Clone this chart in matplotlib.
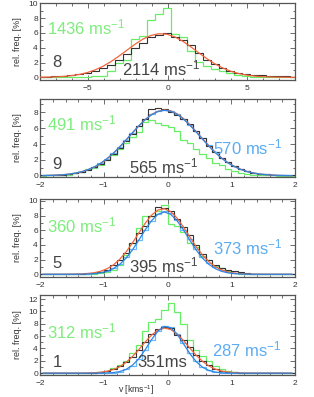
import matplotlib
matplotlib.use('Agg')
import matplotlib.pyplot as plt
import numpy as np
from matplotlib.ticker import MultipleLocator

plt.rcParams['font.family'] = ['Liberation Sans', 'DejaVu Sans']
plt.rcParams['mathtext.fontset'] = 'custom'
plt.rcParams['mathtext.rm'] = 'Liberation Sans'
plt.rcParams['mathtext.it'] = 'Liberation Sans'
plt.rcParams['mathtext.bf'] = 'Liberation Sans:bold'
plt.rcParams['mathtext.default'] = 'rm'

# ---------------- data ----------------
# Panel 1: bins of 0.5 km/s starting at -8.3
p1_green = [0.03, 0.03, 0.03, 0.03, 0.04, 0.05, 0.07, 0.15, 0.2, 0.8, 1.9, 2.3, 5.2, 5.6, 7.7, 8.5,
            9.4, 5.9, 5.5, 3.5, 2.1, 1.5, 1.1, 0.9, 0.6, 0.35, 0.15, 0.08, 0.05, 0.04, 0.03, 0.03, 0.03]
p1_black = [0.08, 0.10, 0.14, 0.2, 0.3, 0.42, 0.6, 0.85, 1.2, 1.7, 2.4, 3.1, 3.9, 4.6, 5.4, 5.7,
            6.0, 5.5, 5.1, 4.4, 3.3, 2.4, 1.75, 1.25, 0.85, 0.6, 0.45, 0.35, 0.28, 0.22, 0.18, 0.14, 0.1]
p1_redfit = [0.01, 0.03, 0.06, 0.12, 0.22, 0.38, 0.63, 1.0, 1.49, 2.12, 2.86, 3.66, 4.45, 5.15, 5.65, 5.89,
             5.83, 5.47, 4.89, 4.14, 3.33, 2.55, 1.85, 1.28, 0.84, 0.52, 0.31, 0.17, 0.09, 0.05, 0.02, 0.01, 0.0]

# Panels 2-4: bins of 0.1 km/s starting at -2.0
p2_green = [0.02, 0.03, 0.05, 0.08, 0.15, 0.3, 0.5, 0.8, 1.0, 1.4, 2.0, 2.6, 3.4, 4.1, 4.9, 5.5, 6.8, 7.0, 6.6, 6.4,
            6.1, 5.7, 4.5, 4.1, 3.4, 2.8, 2.2, 1.6, 1.3, 0.9, 0.6, 0.4, 0.2, 0.12, 0.08, 0.05, 0.03, 0.02, 0.02, 0.01]
p2_black = [0.05, 0.07, 0.1, 0.15, 0.22, 0.35, 0.5, 0.75, 1.05, 1.5, 2.0, 2.8, 3.5, 4.4, 5.3, 6.3, 7.2, 8.4, 8.5, 8.4,
            8.1, 7.7, 7.2, 6.5, 5.6, 4.7, 3.8, 3.0, 2.3, 1.7, 1.2, 0.85, 0.6, 0.4, 0.28, 0.18, 0.12, 0.08, 0.05, 0.04]
p2_blue = [0.04, 0.06, 0.09, 0.14, 0.22, 0.34, 0.52, 0.78, 1.1, 1.55, 2.15, 2.85, 3.6, 4.5, 5.45, 6.3, 7.1, 7.8, 8.2, 8.3,
           8.2, 7.8, 7.2, 6.4, 5.6, 4.7, 3.85, 3.0, 2.3, 1.7, 1.2, 0.85, 0.57, 0.38, 0.25, 0.16, 0.1, 0.07, 0.04, 0.03]
p2_redfit = [0.02, 0.04, 0.07, 0.12, 0.19, 0.31, 0.49, 0.74, 1.08, 1.54, 2.11, 2.81, 3.61, 4.49, 5.40, 6.29, 7.08, 7.72, 8.13, 8.30,
             8.19, 7.82, 7.22, 6.46, 5.58, 4.67, 3.78, 2.96, 2.24, 1.64, 1.17, 0.80, 0.53, 0.34, 0.21, 0.13, 0.07, 0.04, 0.02, 0.01]
p2_bluefit = [0.02, 0.04, 0.07, 0.12, 0.2, 0.32, 0.5, 0.76, 1.1, 1.57, 2.14, 2.84, 3.64, 4.52, 5.42, 6.3, 7.08, 7.7, 8.1, 8.25,
              8.14, 7.76, 7.15, 6.38, 5.51, 4.6, 3.72, 2.91, 2.2, 1.61, 1.15, 0.79, 0.52, 0.34, 0.21, 0.13, 0.08, 0.04, 0.02, 0.01]

p3_green = [0.01, 0.01, 0.02, 0.02, 0.02, 0.03, 0.04, 0.05, 0.08, 0.15, 0.3, 0.6, 1.3, 2.6, 4.3, 6.3, 8.0, 7.9, 8.6, 9.5,
            6.8, 6.6, 5.8, 4.2, 3.7, 2.5, 2.0, 1.1, 0.8, 0.4, 0.2, 0.1, 0.06, 0.04, 0.03, 0.02, 0.02, 0.02, 0.01, 0.01]
p3_black = [0.01, 0.01, 0.02, 0.02, 0.03, 0.05, 0.07, 0.12, 0.2, 0.35, 0.65, 1.2, 2.0, 2.9, 4.3, 5.7, 6.6, 8.0, 9.2, 9.1,
            8.6, 7.5, 6.4, 5.3, 4.0, 2.8, 1.9, 1.3, 0.85, 0.6, 0.4, 0.25, 0.15, 0.1, 0.06, 0.04, 0.03, 0.02, 0.01, 0.01]
p3_blue = [0.01, 0.01, 0.01, 0.02, 0.02, 0.03, 0.05, 0.08, 0.13, 0.25, 0.45, 0.8, 1.4, 2.3, 3.4, 4.7, 6.1, 7.3, 8.2, 8.6,
           8.3, 7.4, 6.1, 4.8, 3.5, 2.4, 1.6, 1.0, 0.6, 0.35, 0.2, 0.12, 0.07, 0.04, 0.03, 0.02, 0.01, 0.01, 0.01, 0.0]
p3_redfit = [0, 0, 0, 0, 0.01, 0.02, 0.05, 0.1, 0.21, 0.41, 0.75, 1.27, 2.03, 3.05, 4.28, 5.63, 6.96, 8.07, 8.77, 8.94,
             8.55, 7.66, 6.45, 5.09, 3.76, 2.61, 1.70, 1.04, 0.59, 0.32, 0.16, 0.08, 0.03, 0.01, 0.01, 0, 0, 0, 0, 0]
p3_bluefit = [0, 0, 0, 0, 0, 0.01, 0.02, 0.04, 0.09, 0.2, 0.4, 0.77, 1.35, 2.2, 3.32, 4.66, 6.06, 7.31, 8.19, 8.5,
              8.19, 7.31, 6.06, 4.66, 3.32, 2.2, 1.35, 0.77, 0.4, 0.2, 0.09, 0.04, 0.02, 0.01, 0, 0, 0, 0, 0, 0]

p4_green = [0.01, 0.01, 0.01, 0.02, 0.02, 0.03, 0.04, 0.06, 0.1, 0.2, 0.4, 0.8, 1.3, 2.0, 3.2, 4.6, 6.8, 8.2, 8.7, 10.2,
            11.3, 9.9, 8.0, 5.3, 3.8, 2.8, 1.9, 1.1, 0.6, 0.3, 0.15, 0.08, 0.05, 0.03, 0.02, 0.02, 0.01, 0.01, 0.01, 0.01]
p4_black = [0.01, 0.01, 0.01, 0.02, 0.02, 0.03, 0.04, 0.06, 0.1, 0.18, 0.35, 0.65, 1.1, 1.8, 2.6, 3.7, 5.0, 6.3, 7.2, 7.4,
            7.3, 6.1, 5.4, 4.3, 3.0, 2.0, 1.25, 0.75, 0.42, 0.22, 0.12, 0.07, 0.04, 0.03, 0.02, 0.02, 0.01, 0.01, 0.01, 0.01]
p4_blue = [0, 0, 0, 0, 0, 0, 0.01, 0.01, 0.02, 0.02, 0.04, 0.1, 0.25, 0.6, 1.2, 2.3, 3.8, 5.4, 6.9, 7.7,
           7.4, 6.3, 4.8, 3.2, 1.9, 1.0, 0.45, 0.2, 0.08, 0.03, 0.02, 0.01, 0.01, 0, 0, 0, 0, 0, 0, 0]
p4_redfit = [0, 0, 0, 0, 0, 0, 0, 0.03, 0.06, 0.14, 0.3, 0.58, 1.04, 1.74, 2.68, 3.82, 5.04, 6.16, 6.97, 7.3,
             7.08, 6.35, 5.28, 4.06, 2.89, 1.91, 1.16, 0.66, 0.34, 0.17, 0.08, 0.03, 0.01, 0, 0, 0, 0, 0, 0, 0]
p4_bluefit = [0, 0, 0, 0, 0, 0, 0, 0, 0, 0.01, 0.03, 0.09, 0.25, 0.6, 1.27, 2.33, 3.79, 5.42, 6.82, 7.56,
              7.36, 6.32, 4.77, 3.17, 1.86, 0.96, 0.43, 0.17, 0.06, 0.02, 0.01, 0, 0, 0, 0, 0, 0, 0, 0, 0]

panel_ids = ['8', '9', '5', '1']
green_labels = ['1436 ms$^{-1}$', '491 ms$^{-1}$', '360 ms$^{-1}$', '312 ms$^{-1}$']
black_labels = ['2114 ms$^{-1}$', '565 ms$^{-1}$', '395 ms$^{-1}$', '351ms']
blue_labels = [None, '570 ms$^{-1}$', '373 ms$^{-1}$', '287 ms$^{-1}$']
ylabel_text = 'rel. freq. [%]'
xlabel_text = 'v [kms$^{-1}$]'

# ---------------- style ----------------
W, H = 314, 397
GREEN = '#66ee66'
GREEN_T = '#7ded7d'
DARK = '#333333'
DARK_T = '#444444'
RED = '#f4643c'
BLUE_H = '#6ab8ff'
BLUE_T = '#5cacf2'
BLUE_F = '#2f86e0'
AXC = '#555555'

fig = plt.figure(figsize=(W / 100, H / 100), dpi=100)

panels = [
    dict(green=p1_green, black=p1_black, blue=None, red=p1_redfit, bfit=None,
         start=-8.3, width=0.5, xlim=(-8, 8), ylim=(-0.36, 10.04), top=3, bot=80,
         xmaj=5, xmin=1, ymaj=2, ymin=1),
    dict(green=p2_green, black=p2_black, blue=p2_blue, red=p2_redfit, bfit=p2_bluefit,
         start=-2.0, width=0.1, xlim=(-2, 2), ylim=(-0.16, 9.68), top=99, bot=177,
         xmaj=1, xmin=0.2, ymaj=2, ymin=1),
    dict(green=p3_green, black=p3_black, blue=p3_blue, red=p3_redfit, bfit=p3_bluefit,
         start=-2.0, width=0.1, xlim=(-2, 2), ylim=(-0.37, 10.27), top=199, bot=277,
         xmaj=1, xmin=0.2, ymaj=2, ymin=1),
    dict(green=p4_green, black=p4_black, blue=p4_blue, red=p4_redfit, bfit=p4_bluefit,
         start=-2.0, width=0.1, xlim=(-2, 2), ylim=(-0.3, 12.65), top=295, bot=375,
         xmaj=1, xmin=0.2, ymaj=2, ymin=1),
]

# text positions in pixels (x_left, y_center)
txt_pos = [
    dict(g=(47, 27.5), n=(52, 62.5), k=(122, 68), b=None),
    dict(g=(47, 123.5), n=(52, 164), k=(129, 166), b=(213, 147.5)),
    dict(g=(47, 225.5), n=(52, 264), k=(129, 265), b=(213, 247.5)),
    dict(g=(47, 331), n=(53, 362.5), k=(137, 362.5), b=(212, 349)),
]

BIG = 12
for i, p in enumerate(panels):
    ax = fig.add_axes([40 / W, 1 - p['bot'] / H, 255 / W, (p['bot'] - p['top']) / H])
    n = len(p['green'])
    edges = p['start'] + p['width'] * np.arange(n + 1)
    centers = 0.5 * (edges[:-1] + edges[1:])
    ax.stairs(p['green'], edges, baseline=None, color=GREEN, lw=0.9, zorder=2)
    if p['blue'] is not None:
        ax.stairs(p['blue'], edges, baseline=None, color=BLUE_H, lw=0.9, zorder=3)
    ax.stairs(p['black'], edges, baseline=None, color=DARK, lw=0.8, zorder=4)
    ax.plot(centers, p['red'], color=RED, lw=0.9, zorder=5)
    if p['bfit'] is not None:
        ax.plot(centers, p['bfit'], color=BLUE_F, lw=0.9, zorder=6)
    ax.set_xlim(*p['xlim'])
    ax.set_ylim(*p['ylim'])
    ax.xaxis.set_major_locator(MultipleLocator(p['xmaj']))
    ax.xaxis.set_minor_locator(MultipleLocator(p['xmin']))
    ax.yaxis.set_major_locator(MultipleLocator(p['ymaj']))
    ax.yaxis.set_minor_locator(MultipleLocator(p['ymin']))
    ax.tick_params(which='both', direction='in', top=True, right=True, color=AXC,
                   labelsize=6, labelcolor=DARK, width=0.6)
    ax.tick_params(which='major', length=3.5)
    ax.tick_params(which='minor', length=1.8)
    ax.tick_params(axis='x', pad=3.5)
    ax.tick_params(axis='y', pad=1.5)
    for s in ax.spines.values():
        s.set_color(AXC)
        s.set_linewidth(0.9)
    ax.patch.set_alpha(0)

    tp = txt_pos[i]
    fig.text(tp['g'][0] / W, 1 - tp['g'][1] / H, green_labels[i], color=GREEN_T,
             fontsize=BIG, ha='left', va='center')
    fig.text(tp['n'][0] / W, 1 - tp['n'][1] / H, panel_ids[i], color=DARK_T,
             fontsize=BIG, ha='left', va='center')
    fig.text(tp['k'][0] / W, 1 - tp['k'][1] / H, black_labels[i], color=DARK_T,
             fontsize=BIG, ha='left', va='center')
    if blue_labels[i] is not None:
        fig.text(tp['b'][0] / W, 1 - tp['b'][1] / H, blue_labels[i], color=BLUE_T,
                 fontsize=BIG, ha='left', va='center')
    fig.text(17 / W, 1 - (p['top'] + p['bot']) / 2 / H, ylabel_text, rotation=90,
             color=DARK, fontsize=6.5, ha='center', va='center')

fig.text(136 / W, 1 - 390.5 / H, xlabel_text, color=DARK, fontsize=6.2, ha='center', va='center')

fig.savefig('out.png', dpi=100)
